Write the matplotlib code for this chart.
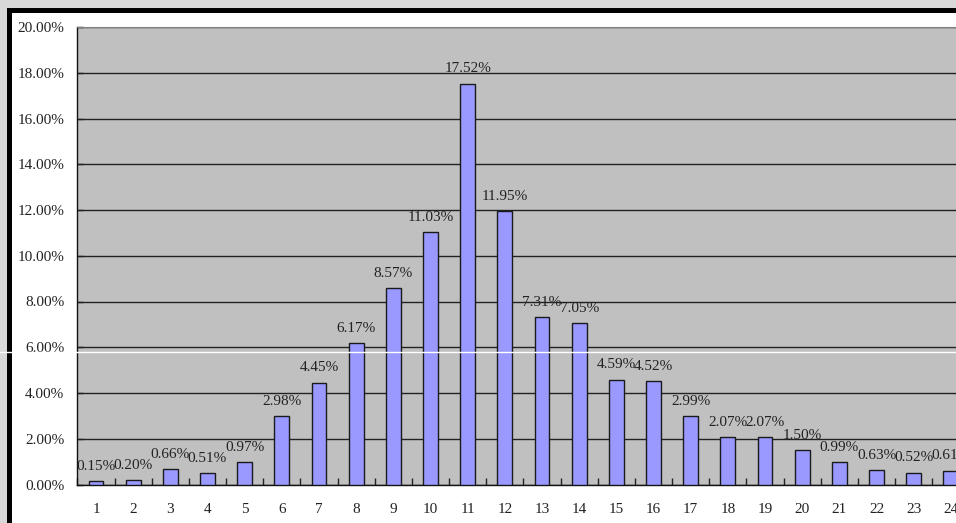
import matplotlib
matplotlib.use("Agg")
import matplotlib.pyplot as plt
from matplotlib.patches import Rectangle
from matplotlib.lines import Line2D
from matplotlib.ticker import FixedLocator, NullFormatter

# Share of records per category (percent)
categories = list(range(1, 25))
shares = [0.15, 0.20, 0.66, 0.51, 0.97, 2.98, 4.45, 6.17, 8.57, 11.03,
          17.52, 11.95, 7.31, 7.05, 4.59, 4.52, 2.99, 2.07, 2.07, 1.50,
          0.99, 0.63, 0.52, 0.61]
y_ticks = [0, 2, 4, 6, 8, 10, 12, 14, 16, 18, 20]

plt.rcParams["font.family"] = ["Liberation Serif", "DejaVu Serif"]

W, H = 956, 523
fig = plt.figure(figsize=(W / 100, H / 100), dpi=100)
fig.patch.set_facecolor("#D8D8D8")

# chart frame: white area with heavy black border on top/left
fig.add_artist(Rectangle((7 / W, -0.1), 1.2, (H - 8) / H + 0.1,
                         transform=fig.transFigure, facecolor="black",
                         edgecolor="none", zorder=0))
fig.add_artist(Rectangle((12 / W, -0.1), 1.2, (H - 13) / H + 0.1,
                         transform=fig.transFigure, facecolor="white",
                         edgecolor="none", zorder=0.5))

left = 77.4 / W
bottom = (H - 484.5) / H
width = (37.17 * 24) / W
height = (484.5 - 27) / H
ax = fig.add_axes([left, bottom, width, height])
ax.set_zorder(2)
ax.set_facecolor("#C0C0C0")

ax.bar(categories, shares, width=0.4, color="#9999FF",
       edgecolor="#1a1a1a", linewidth=1.0, zorder=3)

for x, v in zip(categories, shares):
    ax.annotate(f"{v:.2f}%", (x, v), xytext=(0, 6),
                textcoords="offset points", ha="center", va="bottom",
                fontsize=11, color="#222222", zorder=4, clip_on=False)

ax.set_xlim(0.5, 24.5)
ax.set_ylim(0, 20)
ax.set_yticks(y_ticks)
ax.set_yticklabels([f"{t:.2f}%" for t in y_ticks], fontsize=11, color="#222222")
ax.yaxis.grid(True, color="#222222", linewidth=1.0)
ax.set_axisbelow(True)

ax.xaxis.set_major_locator(FixedLocator([c + 0.5 for c in categories[:-1]] + [0.5]))
ax.xaxis.set_major_formatter(NullFormatter())
ax.xaxis.set_minor_locator(FixedLocator(categories))
ax.set_xticklabels([str(c) for c in categories], minor=True, fontsize=11,
                   color="#222222")
ax.tick_params(axis="x", which="major", direction="in", length=5,
               width=1, color="#222222")
ax.tick_params(axis="x", which="minor", length=0, pad=13)
ax.tick_params(axis="y", direction="in", length=4, width=1,
               color="#222222", pad=9.5)

for side in ("left", "bottom"):
    ax.spines[side].set_color("#111111")
    ax.spines[side].set_linewidth(1.0)
ax.spines["top"].set_color("#808080")
ax.spines["right"].set_visible(False)

# thin white scan line across the whole view
y_line = (H - 352) / H
fig.add_artist(Line2D([0, 1], [y_line, y_line], transform=fig.transFigure,
                      color="white", linewidth=1.0, zorder=10))

fig.savefig("out.png", dpi=100, facecolor=fig.get_facecolor())
